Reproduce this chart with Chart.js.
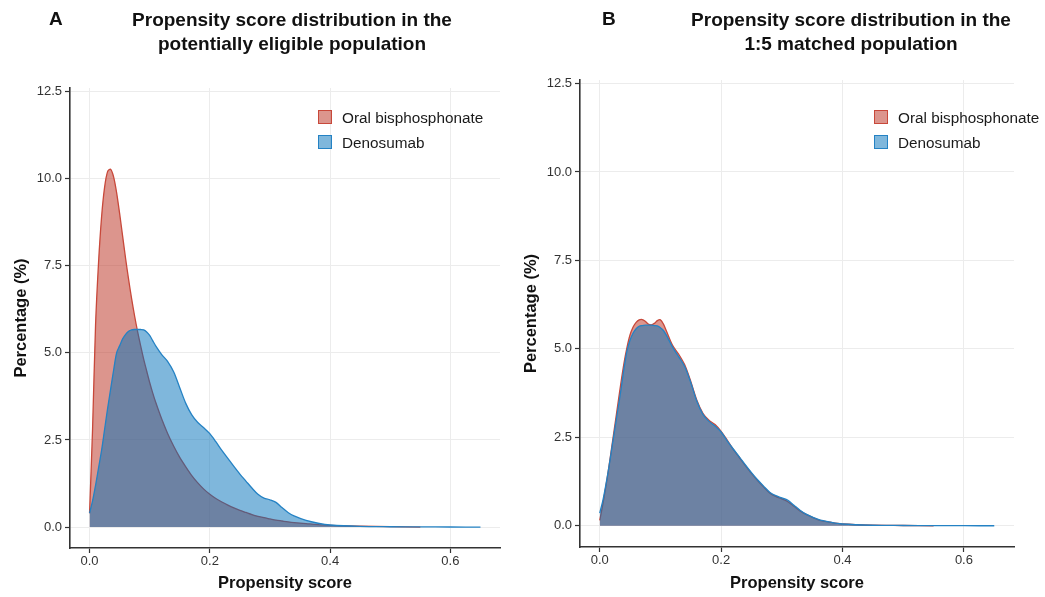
<!DOCTYPE html>
<html>
<head>
<meta charset="utf-8">
<script src="https://cdn.jsdelivr.net/npm/chart.js"></script>
<style>
    body { margin: 0; background: #fff; font-family: "Liberation Sans", Arial, sans-serif; }
    #page { position: relative; width: 1045px; height: 597px; overflow: hidden; }
    canvas { position: absolute; top: 0; }
    .tag, .title { position: absolute; font-weight: bold; font-size: 19px; line-height: 24px; color: #111; }
    .title { text-align: center; }
    .legend { position: absolute; font-size: 15.3px; color: #1a1a1a; }
    .legend div { position: relative; height: 25px; line-height: 15px; padding-left: 24px; }
    .legend span { position: absolute; left: 0; top: 0; width: 12px; height: 12px; border: 1px solid; }
</style>
</head>
<body>
<div id="page">
    <canvas id="chartA" width="520" height="597" style="left:0"></canvas>
    <canvas id="chartB" width="525" height="597" style="left:520px"></canvas>

    <div class="tag" style="left:49px; top:7px">A</div>
    <div class="title" style="left:42px; width:500px; top:8px">Propensity score distribution in the<br>potentially eligible population</div>
    <div class="tag" style="left:602px; top:7px">B</div>
    <div class="title" style="left:601px; width:500px; top:8px">Propensity score distribution in the<br>1:5 matched population</div>

    <div class="legend" id="legendA" style="left:318px; top:110px"></div>
    <div class="legend" id="legendB" style="left:874px; top:110px"></div>
</div>

<script>
// DATA

const seriesNames = ["Oral bisphosphonate", "Denosumab"];

const scoreGrid = [
    0, 0.005, 0.01, 0.015, 0.02, 0.025, 0.03, 0.035, 0.04, 0.045, 0.05, 0.055,
    0.06, 0.065, 0.07, 0.075, 0.08, 0.085, 0.09, 0.095, 0.1, 0.105, 0.11,
    0.12, 0.13, 0.14, 0.15, 0.16, 0.17, 0.18, 0.19, 0.2, 0.21, 0.22, 0.23,
    0.24, 0.25, 0.26, 0.27, 0.28, 0.29, 0.3, 0.31, 0.32, 0.33, 0.34,
    0.36, 0.38, 0.4, 0.45, 0.5, 0.55, 0.6, 0.65
];

// A: potentially eligible population
const oralEligible = [
    0.4, 2.8, 5.8, 7.6, 8.9, 9.75, 10.2, 10.27, 10.05, 9.6, 9.0, 8.35,
    7.7, 7.1, 6.55, 6.05, 5.6, 5.2, 4.82, 4.48, 4.15, 3.85, 3.58,
    3.1, 2.68, 2.32, 2.0, 1.73, 1.48, 1.27, 1.09, 0.94, 0.82, 0.72, 0.63,
    0.55, 0.48, 0.42, 0.36, 0.31, 0.27, 0.235, 0.2, 0.175, 0.15, 0.13,
    0.1, 0.07, 0.05, 0.025, 0.012, 0.0, null, null
];
const denoEligible = [
    0.4, 0.75, 1.2, 1.7, 2.2, 2.8, 3.4, 3.95, 4.5, 5.0, 5.2, 5.4,
    5.53, 5.62, 5.66, 5.67, 5.67, 5.67, 5.66, 5.6, 5.5, 5.35, 5.2,
    4.95, 4.75, 4.45, 4.0, 3.55, 3.22, 3.0, 2.85, 2.68, 2.45, 2.2, 1.97,
    1.74, 1.52, 1.32, 1.12, 0.94, 0.83, 0.78, 0.71, 0.56, 0.42, 0.32,
    0.19, 0.11, 0.06, 0.02, 0.01, 0.005, 0.002, 0
];

// B: 1:5 matched population
const oralMatched = [
    0.15, 0.6, 1.1, 1.65, 2.25, 2.85, 3.45, 4.05, 4.6, 5.05, 5.4, 5.62,
    5.75, 5.82, 5.83, 5.78, 5.7, 5.68, 5.72, 5.8, 5.82, 5.7, 5.5,
    5.1, 4.85, 4.55, 4.08, 3.55, 3.18, 2.98, 2.86, 2.67, 2.42, 2.16, 1.93,
    1.7, 1.48, 1.28, 1.1, 0.93, 0.83, 0.76, 0.68, 0.55, 0.42, 0.32,
    0.17, 0.1, 0.05, 0.015, 0.008, 0.0, null, null
];
const denoMatched = [
    0.36, 0.7, 1.15, 1.65, 2.2, 2.75, 3.3, 3.85, 4.45, 4.95, 5.25, 5.45,
    5.57, 5.64, 5.66, 5.67, 5.67, 5.67, 5.66, 5.65, 5.6, 5.52, 5.38,
    5.05, 4.78, 4.5, 4.05, 3.52, 3.15, 2.95, 2.82, 2.65, 2.4, 2.17, 1.95,
    1.72, 1.5, 1.3, 1.12, 0.95, 0.85, 0.79, 0.72, 0.58, 0.44, 0.33,
    0.18, 0.1, 0.05, 0.015, 0.008, 0.004, 0.002, 0
];

const xTicks = [0, 0.2, 0.4, 0.6];
const yTicks = [0, 2.5, 5, 7.5, 10, 12.5];


// STYLE

const RED_LINE = "rgb(200, 72, 58)";
const RED_FILL = "rgba(185, 43, 27, 0.5)";
const BLUE_LINE = "rgb(36, 130, 196)";
const BLUE_FILL = "rgba(0, 111, 185, 0.5)";
const AXIS_COLOR = "#333";
const GRID_COLOR = "#ececec";
const TICK_FONT = {family: "Liberation Sans", size: 13};
const TITLE_FONT = {family: "Liberation Sans", size: 16.5, weight: "bold"};


const toPoints = (xs, ys) => xs.map((x, i) => ({x: x, y: ys[i]}));


const renderLegend = (el) => {
    [[RED_LINE, RED_FILL], [BLUE_LINE, BLUE_FILL]].forEach(([line, fill], i) => {
        const row = document.createElement("div");
        const key = document.createElement("span");
        key.style.borderColor = line;
        key.style.background = fill;
        row.append(key, seriesNames[i]);
        el.append(row);
    });
}


const renderPanel = (canvasId, oral, deno, box) => {
    new Chart(document.getElementById(canvasId), {
        type: "line",
        data: {
            datasets: [
                {label: seriesNames[0], data: toPoints(scoreGrid, oral), borderColor: RED_LINE, backgroundColor: RED_FILL, fill: "origin", order: 1},
                {label: seriesNames[1], data: toPoints(scoreGrid, deno), borderColor: BLUE_LINE, backgroundColor: BLUE_FILL, fill: "origin", order: 0},
            ],
        },
        options: {
            responsive: false,
            animation: false,
            layout: {padding: {top: box.top, right: box.right, left: 0, bottom: 0}},
            elements: {
                point: {radius: 0},
                line: {borderWidth: 1.3, tension: 0.3},
            },
            plugins: {legend: {display: false}, tooltip: {enabled: false}},
            scales: {
                x: {
                    type: "linear",
                    min: -0.0325,
                    max: 0.6825,
                    afterBuildTicks: (scale) => { scale.ticks = xTicks.map(v => ({value: v})); },
                    afterFit: (scale) => { scale.height = box.xAxisHeight; },
                    ticks: {font: TICK_FONT, color: "#333", padding: 1, maxRotation: 0, callback: v => v.toFixed(1)},
                    grid: {color: GRID_COLOR, tickColor: AXIS_COLOR, tickLength: 5, tickWidth: 1.2},
                    border: {color: AXIS_COLOR, width: 1.6},
                    title: {display: true, text: "Propensity score", font: TITLE_FONT, color: "#111", padding: {top: 0, bottom: 4}},
                },
                y: {
                    min: -0.6,
                    max: 12.6,
                    afterBuildTicks: (scale) => { scale.ticks = yTicks.map(v => ({value: v})); },
                    afterFit: (scale) => { scale.width = box.yAxisWidth; },
                    ticks: {font: TICK_FONT, color: "#333", padding: 3, callback: v => v.toFixed(1)},
                    grid: {color: GRID_COLOR, tickColor: AXIS_COLOR, tickLength: 5, tickWidth: 1.2},
                    border: {color: AXIS_COLOR, width: 1.6},
                    title: {display: true, text: "Percentage (%)", font: TITLE_FONT, color: "#111", padding: {top: box.yTitlePad, bottom: 0}},
                },
            },
        },
    });
}


// MAIN

renderPanel("chartA", oralEligible, denoEligible, {top: 88, right: 20, xAxisHeight: 49, yAxisWidth: 70, yTitlePad: 12});
renderPanel("chartB", oralMatched, denoMatched, {top: 80, right: 31, xAxisHeight: 50, yAxisWidth: 60, yTitlePad: 2});

renderLegend(document.getElementById("legendA"));
renderLegend(document.getElementById("legendB"));
</script>
</body>
</html>
